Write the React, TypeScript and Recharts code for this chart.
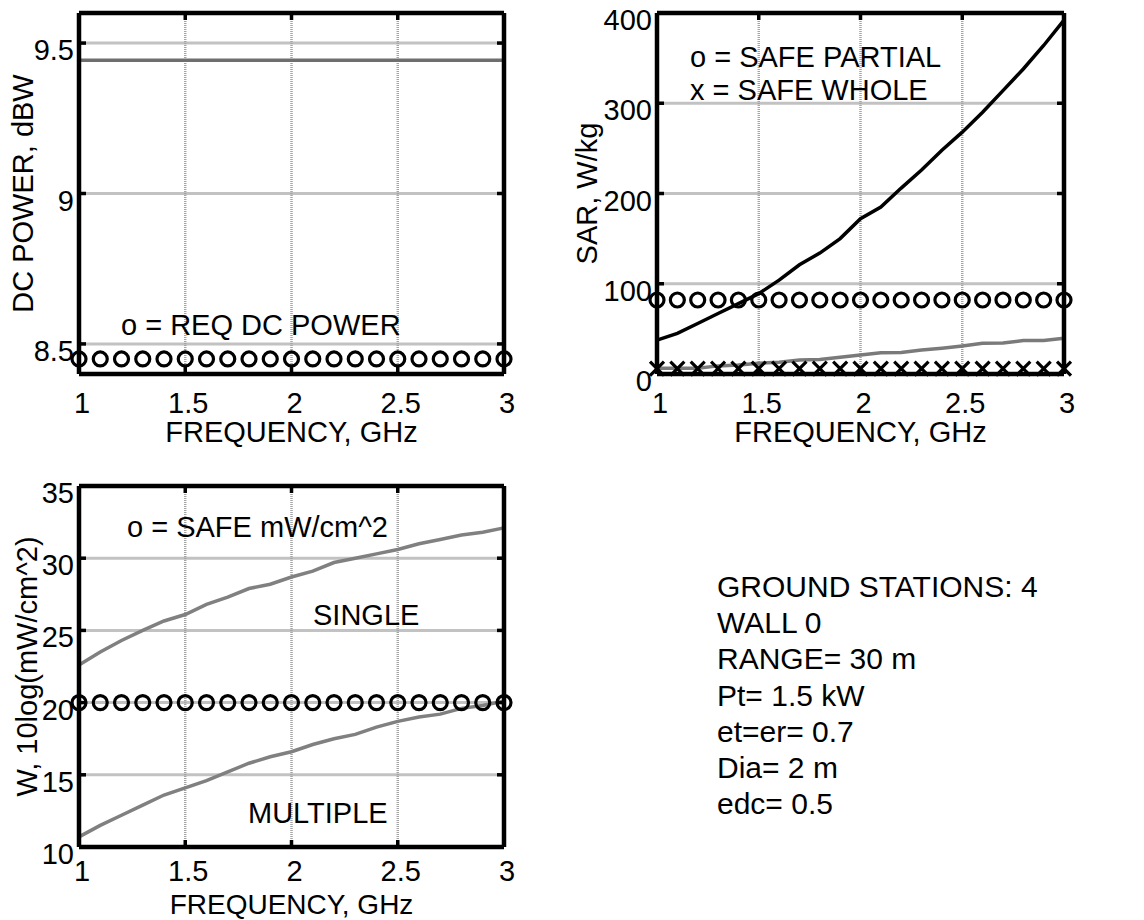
import { LineChart, Line, XAxis, YAxis, CartesianGrid, ReferenceLine } from 'recharts';

const FONT = '"Liberation Sans", Arial, Helvetica, sans-serif';

// frequency grid, GHz
const freqGHz = [1, 1.1, 1.2, 1.3, 1.4, 1.5, 1.6, 1.7, 1.8, 1.9, 2, 2.1, 2.2, 2.3, 2.4, 2.5, 2.6, 2.7, 2.8, 2.9, 3];

// top-left: DC power
const dcPowerDbw = [9.443, 9.443, 9.443, 9.443, 9.443, 9.443, 9.443, 9.443, 9.443, 9.443, 9.443, 9.443, 9.443, 9.443, 9.443, 9.443, 9.443, 9.443, 9.443, 9.443, 9.443];
const reqDcPowerDbw = [8.45, 8.45, 8.45, 8.45, 8.45, 8.45, 8.45, 8.45, 8.45, 8.45, 8.45, 8.45, 8.45, 8.45, 8.45, 8.45, 8.45, 8.45, 8.45, 8.45, 8.45];

// top-right: SAR
const sarPartial = [37.6, 45, 56, 67, 78, 89, 104, 121, 134, 150, 172, 185, 206, 226, 248, 268, 290, 314, 338, 364, 392];
const sarWhole = [6.3, 6.3, 6.5, 9, 10, 12, 13, 15.5, 16, 18.5, 21, 23.5, 23.8, 26.5, 28.5, 31, 34, 34.3, 37, 37.2, 39.5];
const safePartial = [82, 82, 82, 82, 82, 82, 82, 82, 82, 82, 82, 82, 82, 82, 82, 82, 82, 82, 82, 82, 82];
const safeWhole = [6, 6, 6, 6, 6, 6, 6, 6, 6, 6, 6, 6, 6, 6, 6, 6, 6, 6, 6, 6, 6];

// bottom-left: power density
const wSingle = [22.6, 23.5, 24.3, 25.0, 25.65, 26.1, 26.8, 27.3, 27.9, 28.2, 28.7, 29.1, 29.7, 30.0, 30.3, 30.6, 31.0, 31.3, 31.6, 31.8, 32.1];
const wMultiple = [10.7, 11.5, 12.2, 12.9, 13.6, 14.1, 14.6, 15.2, 15.8, 16.25, 16.6, 17.1, 17.5, 17.8, 18.3, 18.7, 19.0, 19.2, 19.6, 19.8, 20.1];
const safeDensity = [20, 20, 20, 20, 20, 20, 20, 20, 20, 20, 20, 20, 20, 20, 20, 20, 20, 20, 20, 20, 20];

const xTicks = [1, 1.5, 2, 2.5, 3];
const dcTicks = [8.5, 9, 9.5];
const sarTicks = [0, 100, 200, 300, 400];
const wTicks = [10, 15, 20, 25, 30, 35];

const infoLines = ['GROUND STATIONS: 4', 'WALL 0', 'RANGE= 30 m', 'Pt= 1.5 kW', 'et=er= 0.7', 'Dia= 2 m', 'edc= 0.5'];

const dcData = freqGHz.map((f, i) => ({ f, dc: dcPowerDbw[i], req: reqDcPowerDbw[i] }));
const sarData = freqGHz.map((f, i) => ({ f, partial: sarPartial[i], whole: sarWhole[i], safeP: safePartial[i], safeW: safeWhole[i] }));
const wData = freqGHz.map((f, i) => ({ f, single: wSingle[i], multiple: wMultiple[i], safe: safeDensity[i] }));

const circleDot = { r: 7, stroke: '#000', strokeWidth: 3.2, fill: 'none' };
const FRAME_W = 4.5;

const crossDot = (p: any) => {
  const { cx, cy, index } = p;
  if (cx == null || cy == null) return <g key={index} />;
  const s = 7;
  return (
    <path
      key={index}
      d={`M${cx - s},${cy - s}L${cx + s},${cy + s}M${cx - s},${cy + s}L${cx + s},${cy - s}`}
      stroke="#000"
      strokeWidth={3.2}
      fill="none"
    />
  );
};

const yTick = (plotW: number) => (p: any) => (
  <g>
    <line x1={p.x} x2={p.x + 7} y1={p.y} y2={p.y} stroke="#000" strokeWidth={3.5} />
    <line x1={p.x + plotW - 7} x2={p.x + plotW} y1={p.y} y2={p.y} stroke="#000" strokeWidth={3.5} />
    <text x={p.x - 5} y={p.y + 17} textAnchor="end" fontSize={29} fontFamily={FONT} fill="#000">
      {p.payload.value}
    </text>
  </g>
);

const xTick = (plotH: number, dy: number) => (p: any) => (
  <g>
    <line x1={p.x} x2={p.x} y1={p.y} y2={p.y - 7} stroke="#000" strokeWidth={3.5} />
    <line x1={p.x} x2={p.x} y1={p.y - plotH} y2={p.y - plotH + 7} stroke="#000" strokeWidth={3.5} />
    <text x={p.x + 3} y={p.y + dy} textAnchor="middle" fontSize={29} fontFamily={FONT} fill="#000">
      {p.payload.value}
    </text>
  </g>
);

function Panel({
  data,
  left,
  top,
  width,
  height,
  marginTop,
  marginRight,
  yAxisWidth,
  xAxisHeight,
  yDomain,
  yTicks,
  yLabel,
  yLabelOffset,
  xLabelOffset,
  xLabelSize = 29,
  xTickDy = 39,
  children,
}: any) {
  const plotW = width - yAxisWidth - marginRight;
  const plotH = height - marginTop - xAxisHeight;
  return (
    <div style={{ position: 'absolute', left, top, width, height }}>
      <LineChart width={width} height={height} data={data} margin={{ top: marginTop, right: marginRight, bottom: 0, left: 0 }}>
        <CartesianGrid vertical={false} stroke="#c2c2c2" strokeWidth={3} />
        <CartesianGrid horizontal={false} stroke="#a4a4a4" strokeWidth={2.5} strokeDasharray="1 1" />
        <XAxis
          dataKey="f"
          type="number"
          domain={[1, 3]}
          ticks={xTicks}
          interval={0}
          height={xAxisHeight}
          axisLine={false}
          tickLine={false}
          tickSize={0}
          tickMargin={0}
          tick={xTick(plotH, xTickDy)}
          label={{ value: 'FREQUENCY, GHz', position: 'insideBottom', offset: xLabelOffset, fontSize: xLabelSize, fill: '#000', fontFamily: FONT }}
        />
        <YAxis
          type="number"
          domain={yDomain}
          ticks={yTicks}
          interval={0}
          width={yAxisWidth}
          axisLine={false}
          tickLine={false}
          tickSize={0}
          tickMargin={0}
          tick={yTick(plotW)}
          label={{
            value: yLabel,
            angle: -90,
            position: 'insideLeft',
            offset: yLabelOffset,
            fontSize: 29,
            fill: '#000',
            fontFamily: FONT,
            style: { textAnchor: 'middle' },
          }}
        />
        {children}
        {/* box around the axes */}
        <ReferenceLine x={1} stroke="#000" strokeWidth={FRAME_W} />
        <ReferenceLine x={3} stroke="#000" strokeWidth={FRAME_W} />
        <ReferenceLine y={yDomain[0]} stroke="#000" strokeWidth={FRAME_W} />
        <ReferenceLine y={yDomain[1]} stroke="#000" strokeWidth={FRAME_W} />
      </LineChart>
    </div>
  );
}

export default function App() {
  const txt = { fontSize: 29, fontFamily: FONT, fill: '#000' };
  return (
    <div style={{ position: 'absolute', left: 0, top: 0, width: 1144, height: 920, background: '#fff', fontFamily: FONT }}>
      <Panel
        data={dcData}
        left={0}
        top={0}
        width={560}
        height={460}
        marginTop={13}
        marginRight={56}
        yAxisWidth={79}
        xAxisHeight={86}
        yDomain={[8.4, 9.6]}
        yTicks={dcTicks}
        yLabel="DC POWER, dBW"
        yLabelOffset={23}
        xLabelOffset={18}
      >
        <Line dataKey="dc" stroke="#6e6e6e" strokeWidth={3.5} dot={false} activeDot={false} isAnimationActive={false} />
        <Line dataKey="req" stroke="none" dot={circleDot} activeDot={false} isAnimationActive={false} />
      </Panel>

      <Panel
        data={sarData}
        left={560}
        top={0}
        width={584}
        height={460}
        marginTop={13}
        marginRight={80}
        yAxisWidth={97}
        xAxisHeight={86}
        yDomain={[0, 400]}
        yTicks={sarTicks}
        yLabel="SAR, W/kg"
        yLabelOffset={27}
        xLabelOffset={18}
      >
        <Line dataKey="partial" stroke="#000" strokeWidth={3.5} dot={false} activeDot={false} isAnimationActive={false} />
        <Line dataKey="whole" stroke="#7a7a7a" strokeWidth={3.5} dot={false} activeDot={false} isAnimationActive={false} />
        <Line dataKey="safeP" stroke="none" dot={circleDot} activeDot={false} isAnimationActive={false} />
        <Line dataKey="safeW" stroke="none" dot={crossDot} activeDot={false} isAnimationActive={false} />
      </Panel>

      <Panel
        data={wData}
        left={0}
        top={460}
        width={560}
        height={460}
        marginTop={26}
        marginRight={56}
        yAxisWidth={79}
        xAxisHeight={73}
        yDomain={[10, 35]}
        yTicks={wTicks}
        yLabel="W, 10log(mW/cm^2)"
        yLabelOffset={27}
        xLabelOffset={6}
        xLabelSize={28}
        xTickDy={34}
      >
        <Line dataKey="single" stroke="#808080" strokeWidth={3.5} dot={false} activeDot={false} isAnimationActive={false} />
        <Line dataKey="multiple" stroke="#808080" strokeWidth={3.5} dot={false} activeDot={false} isAnimationActive={false} />
        <Line dataKey="safe" stroke="none" dot={circleDot} activeDot={false} isAnimationActive={false} />
      </Panel>

      <svg width={1144} height={920} style={{ position: 'absolute', left: 0, top: 0, pointerEvents: 'none' }}>
        <text x={121} y={335} {...txt}>o = REQ DC POWER</text>
        <text x={690} y={67} {...txt}>o = SAFE PARTIAL</text>
        <text x={690} y={100} {...txt}>x = SAFE WHOLE</text>
        <text x={127} y={537} {...txt}>o = SAFE mW/cm^2</text>
        <text x={313} y={625} {...txt}>SINGLE</text>
        <text x={248} y={823} {...txt}>MULTIPLE</text>
        {infoLines.map((line, i) => (
          <text key={line} x={717} y={597 + i * 36.2} fontSize={30} fontFamily={FONT} fill="#000">
            {line}
          </text>
        ))}
      </svg>
    </div>
  );
}
